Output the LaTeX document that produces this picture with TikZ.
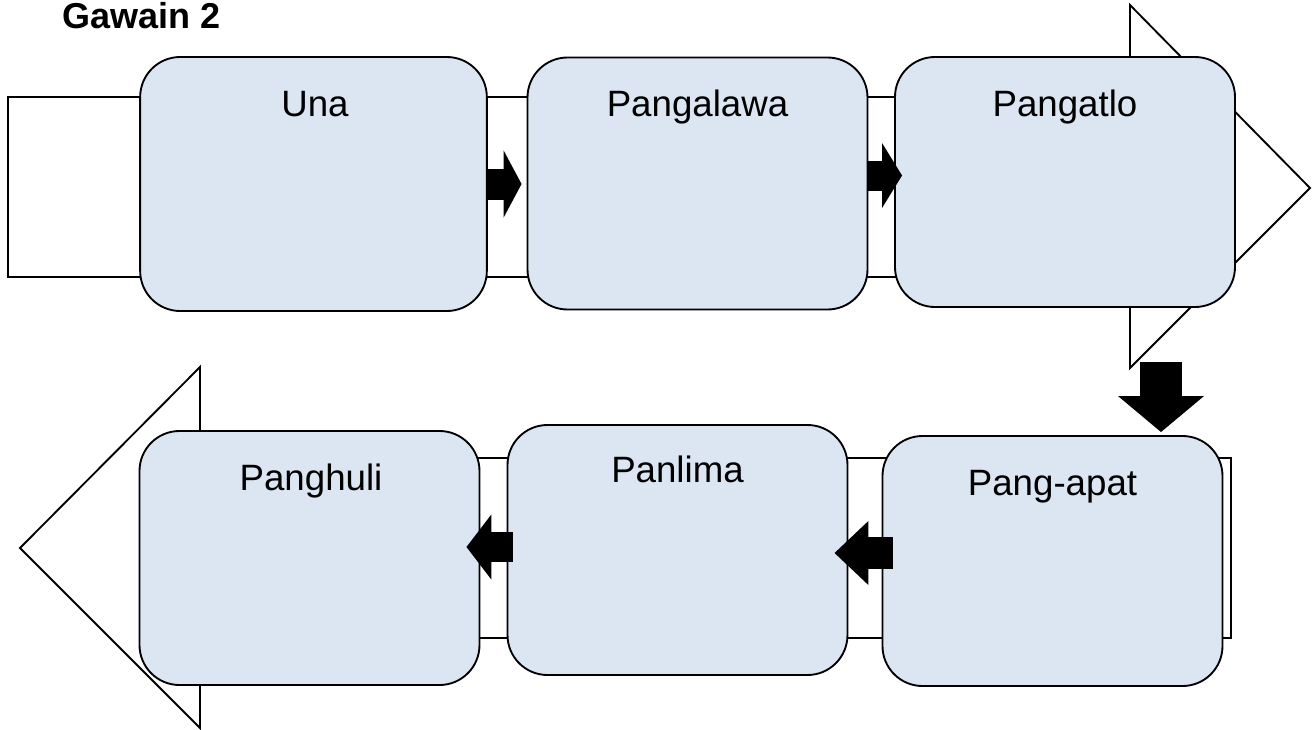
\documentclass[tikz,border=0pt]{standalone}
\usepackage{fontspec}
\setmainfont{Liberation Sans}
\usetikzlibrary{arrows.meta,calc}
\definecolor{boxblue}{RGB}{220,230,242}
\tikzset{
  stepbox/.style={draw=black, fill=boxblue, line width=1.4pt, rounded corners=30pt,
    minimum width=255pt, minimum height=189pt, inner sep=0pt},
  bigarrow/.style={draw=black, fill=white, line width=1.4pt, line join=miter},
  steplabel/.style={anchor=base, inner sep=0pt, font=\fontsize{27.5}{33}\selectfont},
  flowarrow/.style n args={3}{draw=black, line width=#1, -{Triangle[length=#2, width=#3]}}
}
\begin{document}
\begin{tikzpicture}[x=0.75pt,y=0.75pt,yscale=-1,xscale=1]
\useasboundingbox (0,0) rectangle (1315,729);

%Shape: Right Arrow
\draw [bigarrow] (8,97) -- (1130,97) -- (1130,5) -- (1310,188) -- (1130,368) -- (1130,277) -- (8,277) -- cycle ;
%Shape: Left Arrow
\draw [bigarrow] (1231,458) -- (200,458) -- (200,367) -- (20,548) -- (200,728) -- (200,638) -- (1231,638) -- cycle ;

%Rounded Rect
\node [stepbox, minimum width=260pt, minimum height=190.5pt] (una) at (313.5,184) {};
\node [stepbox] (pangalawa) at (697.5,183.5) {};
\node [stepbox, minimum height=187.5pt] (pangatlo) at (1065,182) {};
\node [stepbox, minimum height=187.5pt] (pangapat) at (1052.5,561) {};
\node [stepbox, minimum height=187.5pt] (panlima) at (677.5,550) {};
\node [stepbox, minimum height=190.5pt] (panghuli) at (309.5,558) {};

% Text Node
\node [steplabel] (una-t) at ($(una.north)+(1.5,60)$) {Una};
% Text Node
\node [steplabel] (pangalawa-t) at ($(pangalawa.north)+(0,60)$) {Pangalawa};
% Text Node
\node [steplabel] (pangatlo-t) at ($(pangatlo.north)+(0,60)$) {Pangatlo};
% Text Node
\node [steplabel] (pangapat-t) at ($(pangapat.north)+(0,60)$) {Pang-apat};
% Text Node
\node [steplabel] (panlima-t) at ($(panlima.north)+(0,58)$) {Panlima};
% Text Node
\node [steplabel] (panghuli-t) at ($(panghuli.north)+(1.5,60)$) {Panghuli};
% Text Node
\node [anchor=base west, inner sep=0pt, font=\fontsize{27}{32}\selectfont\bfseries] (title) at (62,28) {Gawain 2};

%Block Arrows
\coordinate (turn) at (1161,362);
\draw [flowarrow={23.25pt}{13.5pt}{50pt}] (una.east) -- ($(pangalawa.west |- una.east)+(-5,0)$);
\draw [flowarrow={22.5pt}{15pt}{48pt}] ($(pangalawa.east)+(0,-8)$) -- ($(pangatlo.west |- pangalawa.east)+(8,-8)$);
\draw [flowarrow={31.5pt}{27pt}{63pt}] (turn) -- ($(turn |- pangapat.north)+(0,-3)$);
\draw [flowarrow={24pt}{25.5pt}{46.5pt}] ($(pangapat.west)+(11,-8)$) -- ($(panlima.east |- pangapat.west)+(-14,-8)$);
\draw [flowarrow={22.5pt}{18.75pt}{48pt}] ($(panlima.west)+(6,-3)$) -- ($(panghuli.east |- panlima.west)+(-14,-3)$);

\end{tikzpicture}
\end{document}
